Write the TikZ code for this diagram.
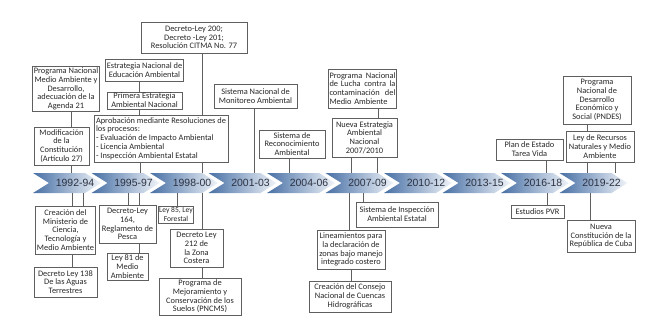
\documentclass[tikz,border=0pt]{standalone}
\usepackage{fontspec}
\setmainfont{Carlito}
\newfontfamily\yearfont{Liberation Sans}

\definecolor{chevdark}{RGB}{72,112,165}
\definecolor{chevlight}{RGB}{240,244,249}
\definecolor{boxline}{RGB}{95,95,95}
\definecolor{boxtext}{RGB}{40,40,40}
\definecolor{yeartext}{RGB}{45,50,65}

\begin{document}
\begin{tikzpicture}[
            x=1bp, y=-1bp,
            hito/.style={draw=boxline, line width=0.7bp, fill=white, align=center, inner sep=1.2bp,
                font=\fontsize{8.4}{8.8}\selectfont, text=boxtext},
            year/.style={minimum width=50bp, minimum height=20bp, inner sep=0pt,
                font=\yearfont\fontsize{10.5}{12}\selectfont, text=yeartext},
            link/.style={draw=boxline, line width=0.6bp}
        ]
            \useasboundingbox (0,0) rectangle (659,322);

            % timeline
            \foreach \yr [count=\i] in {1992-94,1995-97,1998-00,2001-03,2004-06,2007-09,2010-12,2013-15,2016-18,2019-22} {
                \pgfmathsetmacro\ax{33+58.5*(\i-1)}
                \shade[left color=chevdark, right color=chevlight]
                    (\ax,173) -- ++(52,0) -- ++(16,10) -- ++(-16,10) -- ++(-52,0) -- ++(16,-10) -- cycle;
                \node[year] (y\i) at (\ax+42,183) {\yr};
            }

            % above the timeline
            \node[hito, minimum width=66bp, minimum height=44bp] (pnma) at (66,89)
                {Programa Nacional\\Medio Ambiente y\\Desarrollo,\\adecuación de la\\Agenda 21};
            \node[hito, minimum width=55bp, minimum height=38bp] (cons) at (61.5,146)
                {Modificación\\de la\\Constitución\\(Artículo 27)};
            \node[hito, minimum width=106bp, minimum height=31bp] (dl200) at (194,37.5)
                {Decreto-Ley 200;\\Decreto -Ley 201;\\Resolución CITMA No. 77};
            \node[hito, minimum width=77bp, minimum height=22bp] (edu) at (144.5,70)
                {Estrategia Nacional de\\Educación Ambiental};
            \node[hito, minimum width=75bp, minimum height=17bp] (pea) at (144.5,100.5)
                {Primera Estrategia\\Ambiental Nacional};
            \node[hito, align=left, minimum width=134bp, minimum height=47bp] (aprob) at (161,138.5)
                {Aprobación mediante Resoluciones de\\los procesos:\\- Evaluación de Impacto Ambiental\\- Licencia Ambiental\\- Inspección Ambiental Estatal};
            \node[hito, minimum width=83bp, minimum height=24bp] (snma) at (255.5,96)
                {Sistema Nacional de\\Monitoreo Ambiental};
            \node[hito, minimum width=66bp, minimum height=28bp] (sra) at (292,144)
                {Sistema de\\Reconocimiento\\Ambiental};
            \node[hito, align=left, text width=66bp, minimum height=39bp] (pnlc) at (362.5,88.5)
                {Programa \hfill Nacional\\de Lucha \hfill contra \hfill la\\contaminación \hfill del\\Medio Ambiente};
            \node[hito, minimum width=65bp, minimum height=39bp] (nea) at (364.5,137.5)
                {Nueva Estrategia\\Ambiental\\Nacional\\2007/2010};
            \node[hito, minimum width=67bp, minimum height=21bp] (petv) at (529.5,149.5)
                {Plan de Estado\\Tarea Vida};
            \node[hito, minimum width=68bp, minimum height=48bp] (pndes) at (597,100)
                {Programa\\Nacional de\\Desarrollo\\Económico y\\Social (PNDES)};
            \node[hito, minimum width=68bp, minimum height=31bp] (lrnma) at (600,146.5)
                {Ley de Recursos\\Naturales y Medio\\Ambiente};

            % below the timeline
            \node[hito, minimum width=57bp, minimum height=48bp] (citma) at (65.5,230)
                {Creación del\\Ministerio de\\Ciencia,\\Tecnología y\\Medio Ambiente};
            \node[hito, minimum width=63bp, minimum height=30bp] (dl138) at (65.5,282)
                {Decreto Ley 138\\De las Aguas\\Terrestres};
            \node[hito, minimum width=57bp, minimum height=38bp] (dl164) at (127.5,224)
                {Decreto-Ley\\164,\\Reglamento de\\Pesca};
            \node[hito, minimum width=41bp, minimum height=27bp] (ley81) at (127.5,266.5)
                {Ley 81 de\\Medio\\Ambiente};
            \node[hito, minimum width=34bp, minimum height=17bp, inner sep=0.8bp,
                font=\fontsize{7.6}{8.4}\selectfont] (ley85) at (176,214.5)
                {Ley 85, Ley\\Forestal};
            \node[hito, minimum width=53bp, minimum height=38bp] (dl212) at (196.5,248)
                {Decreto Ley\\212 de\\la Zona\\Costera};
            \node[hito, minimum width=82bp, minimum height=37bp] (pncms) at (200,296.5)
                {Programa de\\Mejoramiento y\\Conservación de los\\Suelos (PNCMS)};
            \node[hito, minimum width=82bp, minimum height=25bp] (sia) at (397,214.5)
                {Sistema de Inspección\\Ambiental Estatal};
            \node[hito, minimum width=68bp, minimum height=39bp] (lin) at (351,249.5)
                {Lineamientos para\\la declaración de\\zonas bajo manejo\\integrado costero};
            \node[hito, minimum width=82bp, minimum height=31bp] (ccnh) at (350,296.5)
                {Creación del Consejo\\Nacional de Cuencas\\Hidrográficas};
            \node[hito, minimum width=53bp, minimum height=13bp] (pvr) at (537.5,211.5)
                {Estudios PVR};
            \node[hito, minimum width=68bp, minimum height=32bp] (ncrc) at (601,236)
                {Nueva\\Constitución de la\\República de Cuba};

            \draw[link] (pnma.south -| 71,0) -- (cons.north -| 71,0);
            \draw[link] (cons.south -| 71,0) -- (y1.north -| 71,0);
            \draw[link] (edu.south -| 139,0) -- (pea.north -| 139,0);
            \draw[link] (pea.south -| 139,0) -- (aprob.north -| 139,0);
            \draw[link] (dl200.south -| 202,0) -- (aprob.north -| 202,0);
            \draw[link] (aprob.south -| 140,0) -- (y2.north -| 140,0);
            \draw[link] (aprob.south -| 202,0) -- (y3.north -| 202,0);
            \draw[link] (snma.south -| 254,0) -- (y4.north -| 254,0);
            \draw[link] (sra.south -| 289,0) -- (y5.north -| 289,0);
            \draw[link] (pnlc.south -| 378,0) -- (nea.north -| 378,0);
            \draw[link] (nea.south -| 351,0) -- (y6.north -| 351,0);
            \draw[link] (nea.south -| 377,0) -- (y6.north -| 377,0);
            \draw[link] (petv.south -| 546,0) -- (y9.north -| 546,0);
            \draw[link] (pndes.south -| 587,0) -- (lrnma.north -| 587,0);
            \draw[link] (lrnma.south -| 587,0) -- (y10.north -| 587,0);
            \draw[link] (lrnma.south -| 615,0) -- (y10.north -| 615,0);

            \draw[link] (y1.south -| 72,0) -- (citma.north -| 72,0);
            \draw[link] (y1.south -| 83,0) -- (citma.north -| 83,0);
            \draw[link] (citma.south -| 72,0) -- (dl138.north -| 72,0);
            \draw[link] (y2.south -| 128,0) -- (dl164.north -| 128,0);
            \draw[link] (y2.south -| 139,0) -- (dl164.north -| 139,0);
            \draw[link] (dl164.south -| 139,0) -- (ley81.north -| 139,0);
            \draw[link] (y3.south -| 177,0) -- (ley85.north -| 177,0);
            \draw[link] (y3.south -| 202,0) -- (dl212.north -| 202,0);
            \draw[link] (dl212.south -| 202,0) -- (pncms.north -| 202,0);
            \draw[link] (y6.south -| 349,0) -- (lin.north -| 349,0);
            \draw[link] (y6.south -| 363,0) -- (sia.north -| 363,0);
            \draw[link] (lin.south -| 351,0) -- (ccnh.north -| 351,0);
            \draw[link] (y9.south -| 547,0) -- (pvr.north -| 547,0);
            \draw[link] (y10.south -| 590,0) -- (ncrc.north -| 590,0);
        \end{tikzpicture}
\end{document}
